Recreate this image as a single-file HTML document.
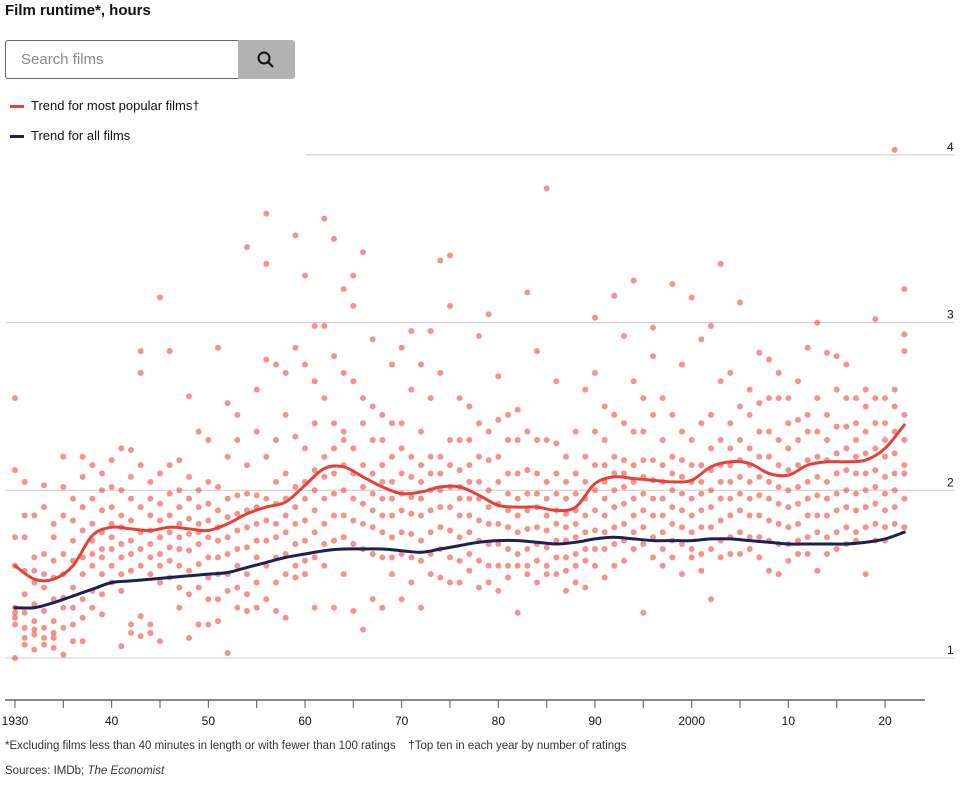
<!DOCTYPE html>
<html><head><meta charset="utf-8"><style>
body{margin:0;background:#fff;font-family:"Liberation Sans",sans-serif;}
#wrap{position:relative;width:973px;height:791px;overflow:hidden;}
.t{position:absolute;white-space:nowrap;color:#111;}
</style></head><body>
<div id="wrap">
<div class="t" style="left:5px;top:2px;font-size:15px;font-weight:bold;">Film runtime*, hours</div>
<div style="position:absolute;left:5px;top:40px;width:233px;height:39px;border:1px solid #666;border-right:none;border-radius:3px 0 0 3px;box-sizing:border-box;font-size:15px;color:#888;line-height:37px;padding-left:15px;">Search films</div>
<div style="position:absolute;left:238px;top:40px;width:57px;height:39px;background:#b3b3b3;border-radius:0 3px 3px 0;">
<svg width="57" height="39"><circle cx="26" cy="18" r="5.5" fill="none" stroke="#111" stroke-width="2"/><line x1="30" y1="22" x2="35" y2="27" stroke="#111" stroke-width="2.2"/></svg></div>
<div style="position:absolute;left:10px;top:98px;"><span style="position:absolute;left:0;top:7px;width:14px;height:3px;background:#e3413a;"></span><span class="t" style="left:21px;top:0;font-size:13px;">Trend for most popular films†</span></div>
<div style="position:absolute;left:10px;top:128px;"><span style="position:absolute;left:0;top:7px;width:14px;height:3px;background:#1b2150;"></span><span class="t" style="left:21px;top:0;font-size:13px;">Trend for all films</span></div>
<svg id="chart" width="973" height="791" style="position:absolute;left:0;top:0;"></svg>
<div class="t" style="left:5px;top:740px;font-size:11.5px;color:#333;">*Excluding films less than 40 minutes in length or with fewer than 100 ratings &nbsp;&nbsp; †Top ten in each year by number of ratings</div>
<div class="t" style="left:5px;top:765px;font-size:11.5px;color:#333;">Sources: IMDb; <i>The Economist</i></div>
</div>
<script>
const firstYear = 1930;
const runtimes = [
[2.55,2.12,1.72,1.55,1.3,1.27,1.24,1.2,1.0],[2.05,1.85,1.72,1.52,1.38,1.27,1.18,1.12,1.08],[1.85,1.6,1.52,1.45,1.32,1.22,1.17,1.14,1.05],[2.03,1.9,1.62,1.5,1.42,1.28,1.18,1.12,1.08],[1.8,1.72,1.58,1.48,1.35,1.22,1.15,1.12,1.06],
[2.2,2.02,1.85,1.62,1.5,1.36,1.3,1.18,1.02],[1.95,1.82,1.7,1.58,1.42,1.3,1.2,1.1],[2.2,2.08,1.9,1.76,1.6,1.5,1.35,1.24,1.1],[2.15,1.95,1.8,1.7,1.62,1.55,1.4,1.3],[2.1,2.0,1.88,1.75,1.65,1.6,1.5,1.38,1.26],
[2.18,2.02,1.9,1.8,1.72,1.65,1.55,1.45],[2.25,2.0,1.85,1.78,1.68,1.6,1.5,1.4,1.07],[2.24,2.08,1.95,1.82,1.7,1.62,1.52,1.2,1.15],[2.83,2.7,2.15,1.9,1.75,1.65,1.55,1.25,1.13],[2.05,1.95,1.85,1.76,1.68,1.6,1.5,1.2,1.15],
[3.15,2.1,1.92,1.82,1.72,1.62,1.55,1.45,1.1],[2.83,2.15,1.98,1.85,1.75,1.66,1.58,1.48],[2.18,2.0,1.9,1.8,1.72,1.65,1.55,1.42,1.3],[2.56,2.08,1.95,1.83,1.74,1.64,1.52,1.38,1.12],[2.35,2.0,1.9,1.8,1.75,1.68,1.56,1.42,1.2],
[2.3,2.05,1.92,1.82,1.72,1.6,1.48,1.35,1.2],[2.85,2.02,1.88,1.78,1.7,1.6,1.5,1.35,1.22],[2.52,2.2,1.95,1.84,1.72,1.62,1.5,1.4,1.03],[2.45,2.3,1.97,1.86,1.76,1.65,1.55,1.42,1.3],[3.45,2.15,1.98,1.88,1.78,1.66,1.5,1.38,1.28],
[2.6,2.35,1.97,1.9,1.8,1.7,1.6,1.45,1.3],[3.65,3.35,2.78,2.2,1.95,1.82,1.7,1.55,1.35],[2.75,2.3,2.05,1.92,1.8,1.72,1.6,1.45,1.28],[2.7,2.45,2.1,1.95,1.85,1.75,1.62,1.5,1.24],[3.52,2.85,2.32,2.02,1.9,1.8,1.68,1.55,1.48],
[3.28,2.75,2.25,2.05,1.95,1.82,1.7,1.58,1.5],[2.98,2.65,2.4,2.12,2.0,1.88,1.75,1.6,1.3],[3.62,2.98,2.55,2.2,2.08,1.95,1.8,1.68,1.55],[3.5,2.8,2.4,2.25,2.1,1.98,1.85,1.7,1.3],[3.2,2.7,2.35,2.3,2.15,2.0,1.85,1.72,1.5],
[3.28,3.1,2.65,2.25,2.1,1.95,1.82,1.68,1.28],[3.42,2.55,2.4,2.15,2.02,1.92,1.8,1.65,1.17],[2.9,2.5,2.3,2.1,1.98,1.88,1.78,1.62,1.35],[2.45,2.3,2.15,2.05,1.95,1.85,1.75,1.6,1.3],[2.75,2.4,2.2,2.05,1.95,1.85,1.72,1.6,1.5],
[2.85,2.4,2.25,2.1,1.98,1.88,1.75,1.62,1.35],[2.95,2.6,2.2,2.08,1.96,1.86,1.74,1.6,1.45],[2.75,2.35,2.15,2.05,1.95,1.85,1.7,1.58,1.3],[2.95,2.55,2.2,2.1,2.0,1.88,1.75,1.62,1.5],[3.37,2.7,2.2,2.1,2.0,1.9,1.78,1.65,1.48],
[3.4,3.1,2.3,2.15,2.02,1.9,1.76,1.6,1.45],[2.55,2.3,2.12,2.02,1.95,1.85,1.72,1.58,1.45],[2.5,2.3,2.15,2.05,1.95,1.85,1.75,1.62,1.52],[2.92,2.4,2.2,2.05,1.95,1.82,1.7,1.58,1.42],[3.05,2.35,2.18,2.0,1.9,1.8,1.68,1.55,1.45],
[2.68,2.42,2.2,2.05,1.92,1.8,1.68,1.55,1.4],[2.45,2.3,2.1,1.98,1.88,1.78,1.65,1.55,1.48],[2.48,2.3,2.1,1.95,1.85,1.75,1.62,1.55,1.27],[3.18,2.35,2.12,1.98,1.88,1.77,1.65,1.55,1.5],[2.83,2.3,2.1,1.98,1.9,1.78,1.68,1.58,1.45],
[3.8,2.3,2.05,1.95,1.85,1.76,1.66,1.55,1.5],[2.65,2.28,2.1,1.98,1.88,1.8,1.7,1.6,1.5],[2.2,2.05,1.95,1.86,1.78,1.7,1.6,1.52,1.4],[2.35,2.1,1.98,1.88,1.8,1.72,1.62,1.55,1.45],[2.6,2.2,2.05,1.95,1.85,1.75,1.65,1.58,1.42],
[3.03,2.7,2.35,2.15,2.0,1.88,1.76,1.65,1.55],[2.5,2.3,2.15,2.05,1.95,1.85,1.75,1.65,1.48],[3.16,2.45,2.2,2.1,2.0,1.9,1.78,1.68,1.55],[2.92,2.4,2.18,2.1,2.02,1.92,1.8,1.7,1.58],[3.25,2.65,2.35,2.15,2.05,1.95,1.85,1.75,1.65],
[2.55,2.35,2.18,2.08,1.98,1.88,1.78,1.68,1.27],[2.97,2.8,2.45,2.18,2.06,1.95,1.85,1.72,1.6],[2.55,2.3,2.15,2.05,1.95,1.85,1.75,1.65,1.55],[3.23,2.45,2.2,2.1,2.0,1.9,1.8,1.7,1.6],[2.75,2.35,2.18,2.08,1.98,1.88,1.78,1.68,1.5],
[3.15,2.3,2.15,2.05,1.95,1.85,1.75,1.65,1.6],[2.9,2.4,2.15,2.05,1.98,1.88,1.78,1.62,1.52],[2.98,2.45,2.25,2.12,2.0,1.9,1.78,1.65,1.35],[3.35,2.65,2.3,2.15,2.05,1.95,1.82,1.7,1.6],[2.7,2.4,2.25,2.15,2.05,1.95,1.85,1.72,1.62],
[3.12,2.5,2.3,2.18,2.08,1.98,1.88,1.75,1.62],[2.6,2.45,2.25,2.15,2.05,1.95,1.85,1.72,1.65],[2.82,2.52,2.35,2.2,2.08,1.97,1.85,1.72,1.6],[2.78,2.55,2.35,2.2,2.05,1.95,1.82,1.7,1.52],[2.7,2.55,2.3,2.15,2.02,1.92,1.8,1.68,1.5],
[2.55,2.4,2.25,2.12,2.0,1.9,1.78,1.68,1.58],[2.65,2.42,2.3,2.15,2.02,1.92,1.8,1.7,1.62],[2.85,2.45,2.35,2.18,2.05,1.95,1.85,1.72,1.62],[3.0,2.55,2.35,2.2,2.08,1.97,1.85,1.75,1.52],[2.82,2.45,2.3,2.18,2.05,1.95,1.85,1.72,1.62],
[2.8,2.6,2.38,2.22,2.1,1.98,1.88,1.75,1.65],[2.75,2.55,2.38,2.25,2.12,2.0,1.9,1.78,1.68],[2.55,2.4,2.3,2.2,2.1,1.98,1.88,1.75,1.7],[2.6,2.5,2.35,2.22,2.1,2.0,1.9,1.78,1.5],[3.02,2.55,2.4,2.25,2.12,2.02,1.92,1.8,1.7],
[2.55,2.4,2.3,2.2,2.08,1.98,1.88,1.78,1.7],[4.03,2.6,2.5,2.35,2.22,2.1,2.0,1.9,1.8],[3.2,2.93,2.83,2.45,2.3,2.15,2.1,1.95,1.78]
];
const trendYears = [1930,1932,1934,1936,1938,1940,1942,1944,1946,1948,1950,1952,1954,1956,1958,1960,1962,1964,1966,1968,1970,1972,1974,1976,1978,1980,1982,1984,1986,1988,1990,1992,1994,1996,1998,2000,2002,2004,2006,2008,2010,2012,2014,2016,2018,2020,2022];
const popularTrend = [1.55,1.47,1.47,1.55,1.73,1.78,1.77,1.76,1.78,1.77,1.76,1.8,1.86,1.9,1.93,2.03,2.13,2.14,2.08,2.02,1.98,1.99,2.02,2.02,1.97,1.91,1.9,1.9,1.88,1.9,2.04,2.08,2.07,2.06,2.05,2.06,2.14,2.17,2.16,2.1,2.09,2.15,2.17,2.17,2.18,2.25,2.39];
const allTrend = [1.3,1.3,1.33,1.37,1.41,1.45,1.46,1.47,1.48,1.49,1.5,1.51,1.54,1.57,1.6,1.62,1.64,1.65,1.65,1.65,1.64,1.63,1.65,1.67,1.69,1.7,1.7,1.69,1.68,1.69,1.71,1.72,1.71,1.7,1.7,1.7,1.71,1.71,1.7,1.69,1.68,1.68,1.68,1.68,1.69,1.71,1.75];
const yTicks = [1,2,3,4];
const xTicks = [1930,1935,1940,1945,1950,1955,1960,1965,1970,1975,1980,1985,1990,1995,2000,2005,2010,2015,2020];
const xLabels = {1930:"1930",1940:"40",1950:"50",1960:"60",1970:"70",1980:"80",1990:"90",2000:"2000",2010:"10",2020:"20"};

const svg = document.getElementById('chart');
const NS = 'http://www.w3.org/2000/svg';
const x = yr => 15 + (yr - 1930) * 870 / 90;
const y = v => 658 - (v - 1) * 167.7;
function mk(tag, attrs){const e=document.createElementNS(NS,tag);for(const k in attrs)e.setAttribute(k,attrs[k]);svg.appendChild(e);return e;}

yTicks.forEach(v=>{
  const g = mk('line',{x1:v===4?305:5,x2:955,y1:y(v),y2:y(v),stroke:'#cccccc','stroke-width':1});
  
  
  const t = mk('text',{x:947,y:y(v)-4,'font-size':12,fill:'#111','font-family':'Liberation Sans, sans-serif'});
  t.textContent = v;
  
  
});
const ax = mk('line',{x1:5,x2:925,y1:700,y2:700,stroke:'#111','stroke-width':1});


xTicks.forEach(yr=>{
  const tk = mk('line',{x1:x(yr),x2:x(yr),y1:700,y2:708,stroke:'#555','stroke-width':1});
  
  
  if(xLabels[yr]){
    const t = mk('text',{x:x(yr),y:725,'font-size':12,fill:'#111','text-anchor':'middle','font-family':'Liberation Sans, sans-serif'});
    t.textContent = xLabels[yr];
    
    
  }
});
runtimes.forEach((vals,i)=>{
  vals.forEach(v=>{
    const c = mk('circle',{cx:x(firstYear+i),cy:y(v),r:3,fill:'rgba(238,80,70,0.62)'});
    
    
  });
});
function path(vals,color,name){
  const pts = trendYears.map((yr,i)=>[x(yr),y(vals[i])]);
  let d = 'M'+pts[0][0].toFixed(1)+' '+pts[0][1].toFixed(1);
  for(let i=0;i<pts.length-1;i++){
    const p0=pts[Math.max(0,i-1)],p1=pts[i],p2=pts[i+1],p3=pts[Math.min(pts.length-1,i+2)];
    const c1=[p1[0]+(p2[0]-p0[0])/6,p1[1]+(p2[1]-p0[1])/6];
    const c2=[p2[0]-(p3[0]-p1[0])/6,p2[1]-(p3[1]-p1[1])/6];
    d+=' C'+c1[0].toFixed(1)+' '+c1[1].toFixed(1)+' '+c2[0].toFixed(1)+' '+c2[1].toFixed(1)+' '+p2[0].toFixed(1)+' '+p2[1].toFixed(1);
  }
  const p = mk('path',{d:d,fill:'none',stroke:color,'stroke-width':3,'stroke-linejoin':'round','stroke-linecap':'round'});
  
  
}
path(popularTrend,'#e3413a','popular-trend-line');
path(allTrend,'#1b2150','all-films-trend-line');
</script>
</body></html>
